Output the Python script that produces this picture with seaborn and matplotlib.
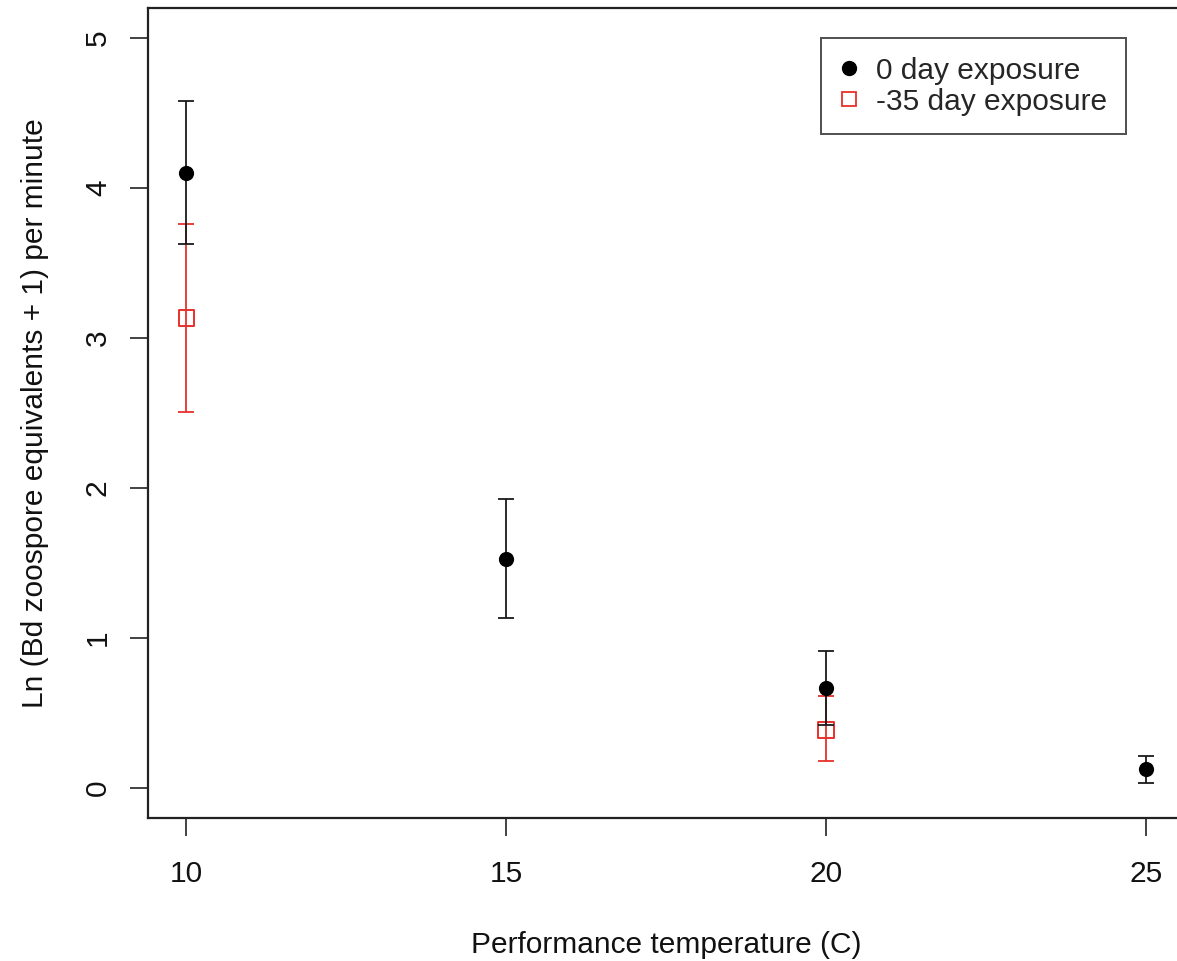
import matplotlib
matplotlib.use("Agg")
import matplotlib.pyplot as plt
from matplotlib.lines import Line2D
import seaborn as sns
import pandas as pd

# Bd zoospore output by performance temperature and exposure group
temp_0day = [10, 15, 20, 25]
mean_0day = [4.10, 1.53, 0.667, 0.124]
lower_0day = [3.63, 1.133, 0.42, 0.035]
upper_0day = [4.58, 1.927, 0.913, 0.215]

temp_35day = [10, 20]
mean_35day = [3.133, 0.387]
lower_35day = [2.507, 0.18]
upper_35day = [3.76, 0.611]

x_ticks = [10, 15, 20, 25]
y_ticks = [0, 1, 2, 3, 4, 5]

sns.set_theme(style="white")
plt.rcParams["font.family"] = ["Liberation Sans", "DejaVu Sans"]

df0 = pd.DataFrame({"temp": temp_0day, "mean": mean_0day,
                    "lo": lower_0day, "hi": upper_0day})
df35 = pd.DataFrame({"temp": temp_35day, "mean": mean_35day,
                     "lo": lower_35day, "hi": upper_35day})

fig = plt.figure(figsize=(11.77, 9.61), dpi=100)
ax = fig.add_axes([148 / 1177, 1 - 818 / 961, 1036 / 1177, 810 / 961])

red = "#e8302a"
ink = "#1a1a1a"
fs = 21.5

# -35 day group first, so the 0 day bars sit on top
ax.errorbar(df35["temp"], df35["mean"],
            yerr=[df35["mean"] - df35["lo"], df35["hi"] - df35["mean"]],
            fmt="none", ecolor=red, elinewidth=1.3, capsize=6, capthick=1.3,
            zorder=2)
sns.scatterplot(data=df35, x="temp", y="mean", ax=ax, marker="s", s=125,
                facecolor="none", edgecolor=red, linewidth=1.4, zorder=3)

ax.errorbar(df0["temp"], df0["mean"],
            yerr=[df0["mean"] - df0["lo"], df0["hi"] - df0["mean"]],
            fmt="none", ecolor=ink, elinewidth=1.3, capsize=6, capthick=1.3,
            zorder=4)
sns.scatterplot(data=df0, x="temp", y="mean", ax=ax, marker="o", s=120,
                color="black", edgecolor="black", linewidth=0, zorder=5)

ax.set_xlim(9.4, 25.6)
ax.set_ylim(-0.2, 5.2)

ax.set_xticks(x_ticks)
ax.set_xticklabels([str(v) for v in x_ticks])
ax.set_yticks(y_ticks)
ax.set_yticklabels([str(v) for v in y_ticks], rotation=90, va="center")

ax.tick_params(axis="both", which="major", direction="out", length=13,
               width=1.2, color="#222222", labelsize=fs, labelcolor="#111111",
               bottom=True, left=True)
ax.tick_params(axis="x", pad=17)
ax.tick_params(axis="y", pad=13)

for side in ["left", "bottom", "top", "right"]:
    ax.spines[side].set_visible(True)
    ax.spines[side].set_color("#222222")
    ax.spines[side].set_linewidth(1.6)

ax.set_xlabel("Performance temperature (C)", fontsize=fs, color="#111111",
              labelpad=31)
ax.set_ylabel("Ln (Bd zoospore equivalents + 1) per minute", fontsize=fs,
              color="#111111", labelpad=25)

handles = [
    Line2D([], [], linestyle="none", marker="o", markersize=10,
           markerfacecolor="black", markeredgecolor="black"),
    Line2D([], [], linestyle="none", marker="s", markersize=10,
           markerfacecolor="none", markeredgecolor=red, markeredgewidth=1.3),
]
leg = ax.legend(handles, ["0 day exposure", "-35 day exposure"],
                loc="upper right", bbox_to_anchor=(978 / 1036, 1 - 30 / 810),
                fontsize=fs, frameon=True, fancybox=False, borderpad=0.62,
                handletextpad=0.55, handlelength=0.7, labelspacing=0.1,
                borderaxespad=0)
leg.get_frame().set_edgecolor("#222222")
leg.get_frame().set_linewidth(1.4)

fig.savefig("out.png", dpi=100)
